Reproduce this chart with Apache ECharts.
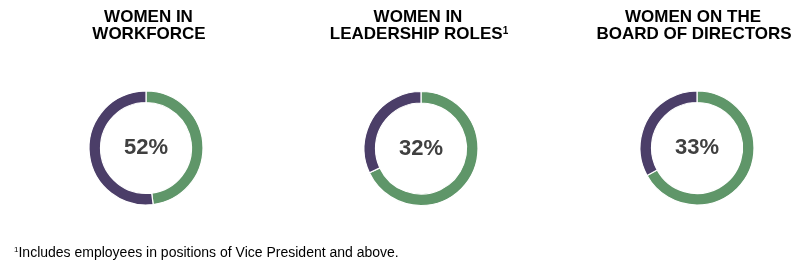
<!DOCTYPE html>
<html>
<head>
<meta charset="utf-8">
<script src="https://cdn.jsdelivr.net/npm/echarts@6/dist/echarts.min.js"></script>
<style>
html,body{margin:0;padding:0;background:#fff;}
#chart{width:799px;height:269px;}
</style>
</head>
<body>
<div id="chart"></div>
<script>
// ---- data ----
const titleLine1 = ['WOMEN IN', 'WOMEN IN', 'WOMEN ON THE'];
const titleLine2 = ['WORKFORCE', 'LEADERSHIP ROLES', 'BOARD OF DIRECTORS'];
const titleNote = ['', '1', ''];
const womenPct = [52, 32, 33];
const footnoteMark = '1';
const footnoteText = 'Includes employees in positions of Vice President and above.';

// ---- layout / style ----
const FONT = '"Liberation Sans", Arial, Helvetica, sans-serif';
const GREEN = '#5F9669';
const PURPLE = '#4B3E68';
const centers = [[146, 148], [421, 148.5], [697, 148]];
const line1X = [148.5, 418, 693];
const line2X = [149, 419, 694];

const chart = echarts.init(document.getElementById('chart'), null, {renderer: 'canvas'});

const series = womenPct.map((p, i) => ({
  type: 'pie',
  silent: true,
  center: centers[i],
  radius: [45.5, 57],
  startAngle: 90,
  clockwise: true,
  animation: false,
  itemStyle: {borderColor: '#fff', borderWidth: 1.2},
  labelLine: {show: false},
  emphasis: {disabled: true},
  data: [
    {value: 100 - p, name: 'Others', itemStyle: {color: GREEN}, label: {show: false}},
    {value: p, name: 'Women', itemStyle: {color: PURPLE},
     label: {show: true, position: 'center', formatter: p + '%', padding: [0, 0, 4, 0],
             fontFamily: FONT, fontWeight: 'bold', fontSize: 22, color: '#404040'}}
  ]
}));

const graphics = [];
titleLine1.forEach((t, i) => {
  graphics.push({type: 'text', x: line1X[i], y: 17.2, style: {
    text: t, fontFamily: FONT, fontWeight: 'bold', fontSize: 17, fill: '#000',
    textAlign: 'center', textVerticalAlign: 'middle'}});
  const l2 = titleLine2[i];
  const t2 = titleNote[i] ? l2 + '{s|' + titleNote[i] + '}' : l2;
  graphics.push({type: 'text', x: line2X[i], y: 34.7, style: {
    text: t2, fontFamily: FONT, fontWeight: 'bold', fontSize: 17, fill: '#000',
    textAlign: 'center', textVerticalAlign: 'middle',
    rich: {s: {fontFamily: FONT, fontWeight: 'bold', fontSize: 10, fill: '#000', padding: [0, 0, 6, 0]}}}});
});
graphics.push({type: 'text', x: 14, y: 253, style: {
  text: '{s|' + footnoteMark + '}' + footnoteText, fontFamily: FONT, fontSize: 14, fill: '#000',
  textAlign: 'left', textVerticalAlign: 'middle',
  rich: {s: {fontFamily: FONT, fontSize: 8, fill: '#000', padding: [0, 0, 6, 0]}}}});

chart.setOption({
  animation: false,
  backgroundColor: '#fff',
  series: series,
  graphic: graphics
});
</script>
</body>
</html>
